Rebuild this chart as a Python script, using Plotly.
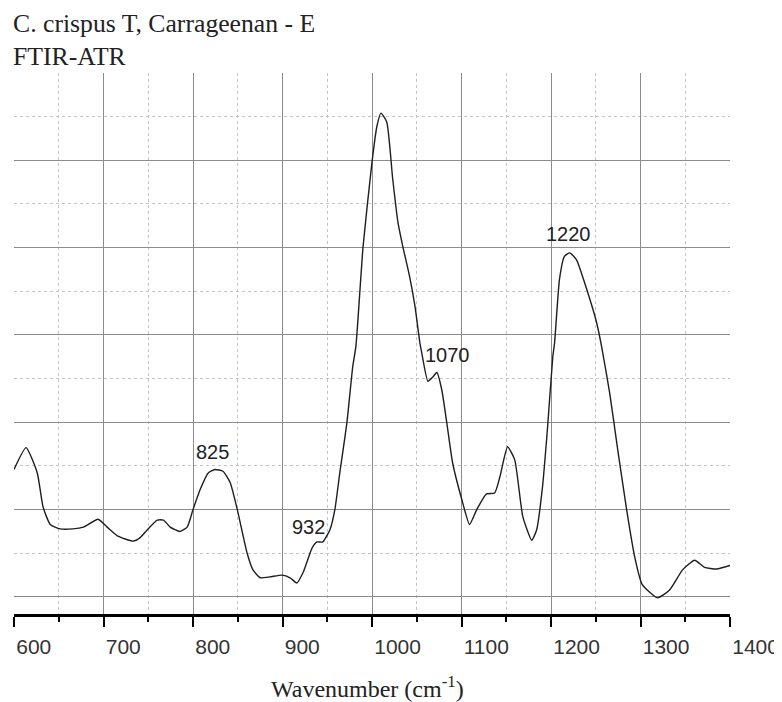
import plotly.graph_objects as go

# FTIR-ATR spectrum (wavenumber in cm-1, absorbance in arbitrary units)
wavenumber = [600, 613.5, 626, 632.5, 640.5, 651.5, 666, 677.5, 694, 704, 715.5, 733, 741, 749,
              760, 767, 774.5, 785.5, 793.5, 800, 808, 817, 824.5, 833.5, 841.5, 849.5, 860.5,
              867, 875, 886, 899.5, 908.5, 916, 923, 933, 938.5, 945, 953, 958.5, 964, 972,
              978.5, 982, 990, 1000, 1005.5, 1010, 1016.5, 1023, 1029, 1034.5, 1042, 1048,
              1053.5, 1055.5, 1062.5, 1068, 1072.5, 1078, 1083.5, 1090, 1100.5, 1109, 1117,
              1128, 1137, 1143, 1151.5, 1159.5, 1168.5, 1178.5, 1184, 1190.5, 1196, 1202,
              1204, 1209.5, 1215, 1221, 1228.5, 1240, 1251, 1256.5, 1265.5, 1274.5, 1284.5,
              1293.5, 1302, 1319, 1332.5, 1347, 1360.5, 1371.5, 1385, 1400]
absorbance = [14.6, 17.1, 14.2, 10.3, 8.3, 7.8, 7.8, 8.0, 8.9, 8.0, 7.0, 6.4, 6.8, 7.7,
              8.8, 8.8, 8.0, 7.5, 8.0, 10.0, 12.3, 14.2, 14.6, 14.4, 13.1, 10.0, 5.0,
              3.1, 2.2, 2.3, 2.5, 2.2, 1.6, 2.8, 5.6, 6.3, 6.3, 7.7, 10.0, 14.2, 20.0,
              26.4, 28.7, 40.1, 49.8, 53.9, 55.4, 54.4, 48.0, 42.9, 40.1, 36.7, 33.3,
              29.1, 28.0, 24.7, 25.2, 25.7, 23.7, 20.0, 15.4, 11.1, 8.3, 10.0,
              11.8, 11.9, 13.8, 17.2, 15.7, 9.2, 6.5, 7.7, 12.6, 19.2, 27.5,
              29.1, 36.4, 39.0, 39.4, 38.6, 35.2, 31.4, 28.7, 23.4, 16.9, 10.0,
              4.6, 1.4, -0.1, 0.8, 3.1, 4.2, 3.4, 3.2, 3.6]

# Peak labels
peak_labels = ["825", "932", "1070", "1220"]
peak_label_x = [822, 929.5, 1084, 1219.5]
peak_label_y = [16.6, 8.0, 27.7, 41.6]

x_ticks = [600, 700, 800, 900, 1000, 1100, 1200, 1300, 1400]
x_tick_text = [str(t) for t in x_ticks]

title_line1 = "C. crispus T, Carrageenan - E"
title_line2 = "FTIR-ATR"
x_title = "Wavenumber (cm<sup>-1</sup>)"

sans = "Liberation Sans, Arial, sans-serif"
serif = "Liberation Serif, Times New Roman, serif"

fig = go.Figure()
fig.add_trace(go.Scatter(
    x=wavenumber, y=absorbance, mode="lines",
    line=dict(color="#1e1e1e", width=1.4, shape="spline", smoothing=0.5),
    hoverinfo="skip", showlegend=False,
))

for t, xv, yv in zip(peak_labels, peak_label_x, peak_label_y):
    fig.add_annotation(x=xv, y=yv, text=t, showarrow=False, xanchor="center", yanchor="middle",
                       font=dict(family=sans, size=20, color="#222"))

fig.add_annotation(xref="paper", yref="paper", x=-0.0042, y=1.0924, text=title_line1,
                   showarrow=False, xanchor="left", yanchor="middle",
                   font=dict(family=serif, size=25.7, color="#222"))
fig.add_annotation(xref="paper", yref="paper", x=-0.0042, y=1.0296, text=title_line2,
                   showarrow=False, xanchor="left", yanchor="middle",
                   font=dict(family=serif, size=25.7, color="#222"))
fig.add_annotation(xref="paper", yref="paper", x=0.4937, y=-0.135, text=x_title,
                   showarrow=False, xanchor="center", yanchor="middle",
                   font=dict(family=serif, size=24, color="#222"))

fig.update_layout(
    width=782, height=702,
    margin=dict(l=6, r=60, t=65, b=96),
    paper_bgcolor="white", plot_bgcolor="white",
    showlegend=False,
    xaxis=dict(
        range=[600, 1400], automargin=False,
        tickvals=x_ticks, ticktext=x_tick_text,
        ticklabelposition="outside right", ticklabelstandoff=12,
        ticks="outside", ticklen=10, tickwidth=2, tickcolor="black",
        tickfont=dict(family=sans, size=21, color="#333"),
        showline=True, linecolor="black", linewidth=2.5,
        showgrid=True, gridcolor="#8c8c8c", gridwidth=1,
        zeroline=False,
        minor=dict(dtick=50, tick0=600, ticks="outside", ticklen=5, tickwidth=2,
                   tickcolor="black", showgrid=True, gridcolor="#c4c4c4",
                   griddash="dot", gridwidth=1),
    ),
    yaxis=dict(
        range=[-1.95, 60], automargin=False,
        tick0=0, dtick=10,
        showticklabels=False, ticks="",
        showline=False, zeroline=False,
        showgrid=True, gridcolor="#8c8c8c", gridwidth=1,
        minor=dict(dtick=5, tick0=0, showgrid=True, gridcolor="#c4c4c4",
                   griddash="dot", gridwidth=1),
    ),
)

fig.write_html("out.html")
